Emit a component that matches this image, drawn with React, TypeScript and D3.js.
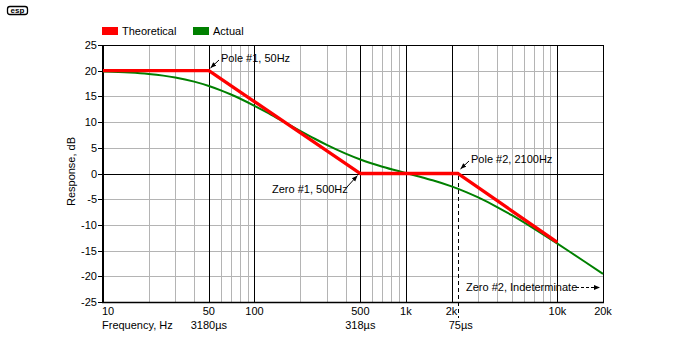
import React from "react";
import * as d3 from "d3";

const theoFreq = [10, 50, 500, 2200, 10000];
const theoDb = [20, 20, 0, 0, -13.4];

const actualFreq = [10, 15, 20, 25, 30, 40, 50, 60, 70, 80, 100, 120, 150, 200, 250, 300, 400, 500, 700, 1000, 1200, 1500, 2000, 2500, 3000, 4000, 5000, 7000, 10000, 12000, 15000, 20000];
const actualDb = [19.83, 19.63, 19.36, 19.04, 18.68, 17.88, 17.03, 16.18, 15.37, 14.59, 13.17, 11.93, 10.35, 8.3, 6.76, 5.57, 3.87, 2.73, 1.32, 0.1, -0.52, -1.31, -2.5, -3.61, -4.65, -6.52, -8.12, -10.73, -13.65, -15.18, -17.07, -19.53];

const yTicks = [25, 20, 15, 10, 5, 0, -5, -10, -15, -20, -25];
const xLabelFreqs = [10, 50, 100, 500, 1000, 2000, 10000, 20000];
const xLabelTexts = ["10", "50", "100", "500", "1k", "2k", "10k", "20k"];
const majorFreqs = [50, 100, 500, 1000, 2000, 10000, 20000];
const minorFreqs = [20, 30, 40, 60, 70, 80, 90, 200, 300, 400, 600, 700, 800, 900, 3000, 4000, 5000, 6000, 7000, 8000, 9000];
const tcFreqs = [50, 500, 2200];
const tcLabels = ["3180µs", "318µs", "75µs"];
const seriesNames = ["Theoretical", "Actual"];
const seriesColors = ["#ff0000", "#008000"];

const FONT = "Liberation Sans, Arial, sans-serif";

export default function App() {
  const x = d3.scaleLog().domain([10, 20000]).range([103, 603]);
  const y = d3.scaleLinear().domain([-25, 25]).range([302, 45]);
  const theo = theoFreq.map((f, i) => [f, theoDb[i]] as [number, number]);
  const act = actualFreq.map((f, i) => [f, actualDb[i]] as [number, number]);
  const line = d3.line<[number, number]>().x(d => x(d[0])).y(d => y(d[1]));
  const smooth = d3.line<[number, number]>().x(d => x(d[0])).y(d => y(d[1])).curve(d3.curveMonotoneX);
  const grey = "#b4b4b4";
  const dashX = x(2200);
  return (
    <svg width={700} height={360} style={{ position: "absolute", left: 0, top: 0, background: "#fff" }} fontFamily={FONT} fontSize={11}>
      <defs>
        <marker id="ah" viewBox="0 0 10 10" refX="10" refY="5" markerWidth="6" markerHeight="6" orient="auto-start-reverse" markerUnits="userSpaceOnUse">
          <path d="M0,1 L10,5 L0,9 z" fill="#000" />
        </marker>
      </defs>
      <rect width={700} height={360} fill="#fff" />
      {/* logo */}
      <rect x={7.5} y={6.5} width={20} height={8} rx={2.5} fill="none" stroke="#000" strokeWidth={1.3} />
      <text x={17.5} y={13.2} fontSize={8} textAnchor="middle" fontWeight="bold">esp</text>
      {/* legend */}
      {seriesNames.map((n, i) => (
        <g key={n}>
          <rect x={i === 0 ? 102 : 193} y={27} width={16} height={8} fill={seriesColors[i]} />
          <text x={i === 0 ? 122 : 213} y={35}>{n}</text>
        </g>
      ))}
      {/* grid */}
      {yTicks.filter(t => t !== 0 && t !== 25 && t !== -25).map(t => (
        <line key={"h" + t} x1={103} x2={603} y1={Math.round(y(t)) + 0.5} y2={Math.round(y(t)) + 0.5} stroke={grey} />
      ))}
      {minorFreqs.map(f => (
        <line key={"m" + f} x1={Math.round(x(f)) + 0.5} x2={Math.round(x(f)) + 0.5} y1={45} y2={302} stroke={grey} />
      ))}
      {majorFreqs.map(f => (
        <line key={"M" + f} x1={Math.round(x(f)) + 0.5} x2={Math.round(x(f)) + 0.5} y1={45} y2={302} stroke="#000" />
      ))}
      <line x1={103} x2={603} y1={Math.round(y(0)) + 0.5} y2={Math.round(y(0)) + 0.5} stroke="#000" />
      <line x1={103} x2={603} y1={45.5} y2={45.5} stroke="#000" />
      <line x1={102} x2={604} y1={302.5} y2={302.5} stroke="#000" strokeWidth={1.5} />
      <line x1={103} x2={103} y1={45} y2={303} stroke="#000" strokeWidth={2} />
      {/* y ticks */}
      {yTicks.map(t => (
        <g key={"yt" + t}>
          <line x1={98} x2={103} y1={Math.round(y(t)) + 0.5} y2={Math.round(y(t)) + 0.5} stroke="#000" />
          <text x={97} y={y(t) + 4} textAnchor="end">{t}</text>
        </g>
      ))}
      <text transform={`translate(75,${171.5}) rotate(-90)`} textAnchor="middle">Response, dB</text>
      {/* x labels */}
      {xLabelFreqs.map((f, i) => (
        <text key={"xl" + f} x={i === 0 ? 102 : x(f)} y={315} textAnchor={i === 0 ? "start" : "middle"}>{xLabelTexts[i]}</text>
      ))}
      <text x={102} y={329}>Frequency, Hz</text>
      {tcFreqs.map((f, i) => (
        <text key={"tc" + f} x={x(f) + (i === 2 ? 3 : 0)} y={329} textAnchor="middle">{tcLabels[i]}</text>
      ))}
      {/* dashed 75us */}
      <line x1={Math.round(dashX) + 0.5} x2={Math.round(dashX) + 0.5} y1={176} y2={318} stroke="#000" strokeDasharray="4,3" />
      {/* curves */}
      <path d={smooth(act) || ""} fill="none" stroke="#008000" strokeWidth={2} />
      <path d={line(theo) || ""} fill="none" stroke="#ff0000" strokeWidth={3.3} />
      {/* annotations */}
      <line x1={219} y1={60} x2={210.5} y2={68} stroke="#000" markerEnd="url(#ah)" />
      <text x={221} y={62}>Pole #1, 50Hz</text>
      <line x1={347} y1={187} x2={357.5} y2={175.5} stroke="#000" markerEnd="url(#ah)" />
      <text x={272} y={193}>Zero #1, 500Hz</text>
      <line x1={469} y1={161} x2={460.5} y2={169} stroke="#000" markerEnd="url(#ah)" />
      <text x={471} y={163}>Pole #2, 2100Hz</text>
      <text x={466} y={291}>Zero #2, Indeterminate</text>
      <line x1={576} y1={287.5} x2={600} y2={287.5} stroke="#000" strokeDasharray="3,2" markerEnd="url(#ah)" />
    </svg>
  );
}
